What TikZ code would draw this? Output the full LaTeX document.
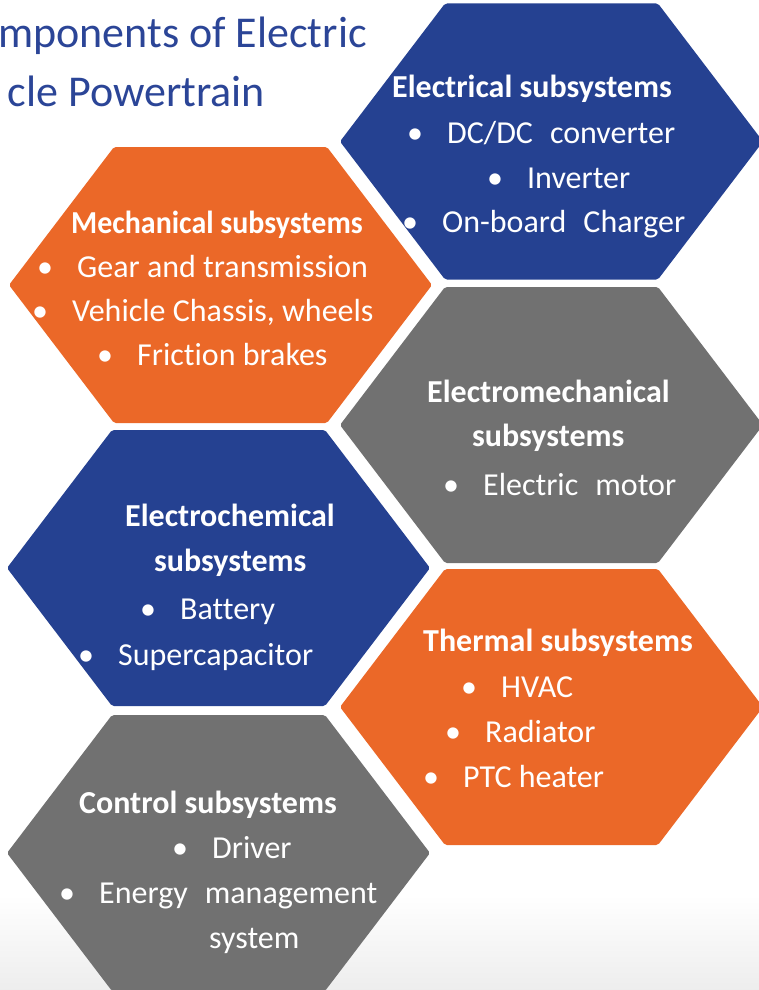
\documentclass[tikz,border=0pt]{standalone}
\usepackage{fontspec}
\setmainfont[Ligatures={NoCommon,NoContextual}]{Carlito}
\definecolor{hexblue}{HTML}{254191}
\definecolor{hexorange}{HTML}{EB6828}
\definecolor{hexgray}{HTML}{717171}
\definecolor{titleblue}{HTML}{2B4597}
\newcommand\bl{\makebox[0pt]{\textbullet}\hspace{32pt}}
\newcommand\wsp{\hspace{17pt}}
\begin{document}
\begin{tikzpicture}[x=1pt,y=-1pt,
  hdr/.style={anchor=base west,inner sep=0pt,text=white,font=\fontsize{32}{38}\selectfont\bfseries},
  itm/.style={anchor=base west,inner sep=0pt,text=white,font=\fontsize{32}{38}\selectfont},
  ttl/.style={anchor=base east,inner sep=0pt,text=titleblue,font=\fontsize{44}{52}\selectfont}]
  \fill[white] (0,0) rectangle (759,990);
  \shade[top color=white,bottom color=black!7] (0,895) rectangle (759,990);
  \useasboundingbox (0,0) rectangle (759,990);
  % Title (cut at the left edge)
  \node[ttl] (title1) at (367,48) {mponents of Electric};
  \node[ttl] (title2) at (265,106) {cle Powertrain};
  % Hexagons
  \foreach \cx/\cy/\col/\nm in {551.5/141.5/hexblue/electrical, 220.5/285/hexorange/mechanical,
      551.5/425/hexgray/electromech, 218.5/568/hexblue/electrochem,
      551.5/707/hexorange/thermal, 218.5/853/hexgray/control}{
    \fill[\col,rounded corners=2pt] (\cx-211.5,\cy) -- (\cx-106.5,\cy-138) -- (\cx+106.5,\cy-138)
      -- (\cx+211.5,\cy) -- (\cx+106.5,\cy+138) -- (\cx-106.5,\cy+138) -- cycle;
    \coordinate (\nm) at (\cx,\cy);
  }
  % Electrical
  \node[hdr] (elec-h) at (392,97) {Electrical subsystems};
  \node[itm] (elec-1) at (415,143) {\bl DC/DC\wsp converter};
  \node[itm] (elec-2) at (495,188) {\bl Inverter};
  \node[itm] (elec-3) at (410,232) {\bl On-board\wsp Charger};
  % Mechanical
  \node[hdr] (mech-h) at (71,233) {\scalebox{0.935}[1]{Mechanical subsystems}};
  \node[itm] (mech-1) at (45,277) {\bl Gear and transmission};
  \node[itm] (mech-2) at (40,321) {\bl Vehicle Chassis, wheels};
  \node[itm] (mech-3) at (105,365) {\bl Friction brakes};
  % Electromechanical
  \node[hdr] (emech-h) at (427,402) {Electromechanical};
  \node[hdr] (emech-s) at (472,446) {subsystems};
  \node[itm] (emech-1) at (451,495) {\bl Electric\wsp motor};
  % Electrochemical
  \node[hdr] (echem-h) at (125,526) {Electrochemical};
  \node[hdr] (echem-s) at (154,571) {subsystems};
  \node[itm] (echem-1) at (148,619) {\bl Battery};
  \node[itm] (echem-2) at (86,665) {\bl Supercapacitor};
  % Thermal
  \node[hdr] (therm-h) at (423,651) {Thermal subsystems};
  \node[itm] (therm-1) at (469,697) {\bl HVAC};
  \node[itm] (therm-2) at (453,742) {\bl Radiator};
  \node[itm] (therm-3) at (431,787) {\bl PTC heater};
  % Control
  \node[hdr] (ctrl-h) at (79,813) {Control subsystems};
  \node[itm] (ctrl-1) at (180,858) {\bl Driver};
  \node[itm] (ctrl-2) at (67,903) {\bl Energy\wsp management};
  \node[itm] (ctrl-3) at (209,948) {system};
\end{tikzpicture}
\end{document}
